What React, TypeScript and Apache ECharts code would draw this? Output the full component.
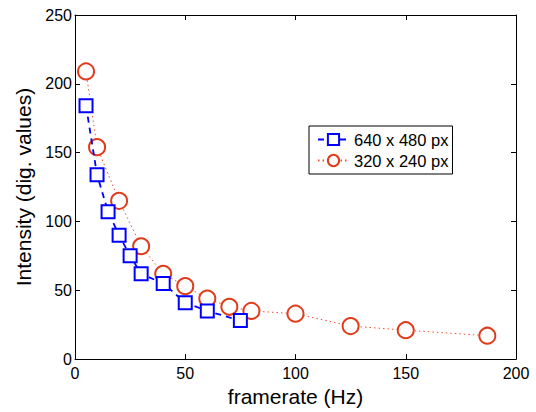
import React, { useEffect, useRef } from "react";
import * as echarts from "echarts";

const xBlue = [5, 10, 15, 20, 25, 30, 40, 50, 60, 75];
const yBlue = [184, 134, 107, 90, 75, 62, 55, 41, 35, 28];
const xRed = [5, 10, 20, 30, 40, 50, 60, 70, 80, 100, 125, 150, 187];
const yRed = [209, 154, 115, 82, 62, 53, 44, 38, 35, 33, 24, 21, 17];
const xTicks = [0, 50, 100, 150, 200];
const yTicks = [0, 50, 100, 150, 200, 250];
const seriesNames = ["640 x 480 px", "320 x 240 px"];

export default function App() {
  const ref = useRef<HTMLDivElement>(null);
  useEffect(() => {
    const chart = echarts.init(ref.current!, undefined, { renderer: "svg" });
    const font = "Liberation Sans, Arial, sans-serif";
    const baseAxis = {
      axisLine: { show: true, onZero: false, lineStyle: { color: "#000", width: 1 } },
      axisTick: { show: true, inside: true, length: 5, lineStyle: { color: "#000" } },
      splitLine: { show: false },
    };
    chart.setOption({
      animation: false,
      backgroundColor: "#fff",
      textStyle: { fontFamily: font },
      grid: { left: 75, right: 20, top: 15, bottom: 45, containLabel: false },
      xAxis: [
        {
          ...baseAxis,
          type: "value",
          min: xTicks[0],
          max: xTicks[xTicks.length - 1],
          interval: 50,
          position: "bottom",
          name: "framerate (Hz)",
          nameLocation: "middle",
          nameGap: 25,
          nameTextStyle: { fontSize: 21, color: "#000", fontFamily: font },
          axisLabel: { fontSize: 16, color: "#000", margin: 6, fontFamily: font },
        },
        {
          ...baseAxis,
          type: "value",
          min: xTicks[0],
          max: xTicks[xTicks.length - 1],
          interval: 50,
          position: "top",
          axisLabel: { show: false },
        },
      ],
      yAxis: [
        {
          ...baseAxis,
          type: "value",
          min: yTicks[0],
          max: yTicks[yTicks.length - 1],
          interval: 50,
          position: "left",
          name: "Intensity (dig. values)",
          nameLocation: "middle",
          nameGap: 38,
          nameTextStyle: { fontSize: 21, color: "#000", fontFamily: font },
          axisLabel: { fontSize: 16, color: "#000", margin: 3, fontFamily: font },
        },
        {
          ...baseAxis,
          type: "value",
          min: yTicks[0],
          max: yTicks[yTicks.length - 1],
          interval: 50,
          position: "right",
          axisLabel: { show: false },
        },
      ],
      legend: {
        left: 309,
        top: 126,
        orient: "vertical",
        backgroundColor: "#fff",
        borderColor: "#000",
        borderWidth: 1,
        padding: [5, 4, 5, 8],
        itemGap: 4,
        itemWidth: 31,
        itemHeight: 14,
        textStyle: { fontSize: 16.5, color: "#000", fontFamily: font },
        data: seriesNames,
      },
      series: [
        {
          name: seriesNames[0],
          type: "line",
          data: xBlue.map((x, i) => [x, yBlue[i]]),
          symbol: "emptyRect",
          symbolSize: 13,
          showAllSymbol: true,
          itemStyle: { color: "#0000ff", borderColor: "#0000ff", borderWidth: 1.5 },
          lineStyle: { color: "#0000ff", width: 1.8, type: [6, 5] },
          z: 3,
        },
        {
          name: seriesNames[1],
          type: "line",
          data: xRed.map((x, i) => [x, yRed[i]]),
          symbol: "emptyCircle",
          symbolSize: 16,
          showAllSymbol: true,
          itemStyle: { color: "#e03c1c", borderColor: "#e03c1c", borderWidth: 1.5 },
          lineStyle: { color: "#f05030", width: 1, type: [1.5, 3] },
          z: 2,
        },
      ],
    });
    return () => chart.dispose();
  }, []);
  return (
    <div
      ref={ref}
      style={{ position: "fixed", left: 0, top: 0, width: 536, height: 412 }}
    />
  );
}
